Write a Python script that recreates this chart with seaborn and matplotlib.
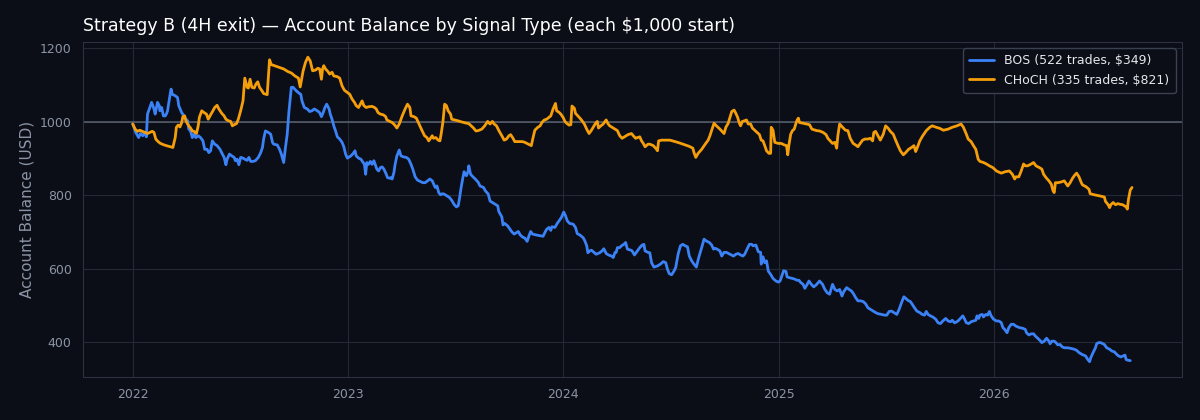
import numpy as np
import pandas as pd
import seaborn as sns
import matplotlib
matplotlib.use("Agg")
import matplotlib.pyplot as plt
import matplotlib.dates as mdates

# ---- data ----
# (days since 2022-01-01, account balance in USD)
start_date = pd.Timestamp("2022-01-01")

bos_points = [
    (0, 994), (5, 971), (10, 957), (13, 968), (17, 962), (21, 971), (23, 959), (25, 1021),
    (29, 1039), (32, 1053), (36, 1035), (38, 1021), (42, 1053), (45, 1044), (46, 1030),
    (49, 1039), (52, 1016), (55, 1016), (57, 1021), (59, 1030), (63, 1071), (65, 1089),
    (67, 1075), (72, 1071), (76, 1066), (78, 1044), (83, 1025), (87, 1016), (90, 1007),
    (93, 1003), (95, 980), (98, 975), (101, 957), (104, 966), (107, 957), (111, 962),
    (115, 957), (119, 948), (122, 925), (126, 925), (129, 916), (132, 921), (135, 948),
    (139, 939), (143, 935), (148, 925), (152, 912), (155, 903), (158, 883), (160, 898),
    (164, 912), (168, 907), (172, 903), (174, 894), (177, 898), (180, 883), (183, 903),
    (187, 901), (190, 898), (194, 895), (197, 903), (200, 892), (204, 892), (208, 894),
    (213, 903), (217, 916), (220, 930), (222, 953), (225, 975), (230, 971), (234, 966),
    (237, 944), (239, 939), (245, 937), (249, 925), (252, 912), (256, 889), (259, 930),
    (262, 966), (265, 1030), (269, 1094), (272, 1094), (277, 1085), (282, 1078),
    (285, 1075), (287, 1057), (291, 1039), (296, 1035), (300, 1028), (304, 1030),
    (308, 1035), (313, 1030), (317, 1025), (320, 1014), (323, 1025), (326, 1039),
    (329, 1048), (333, 1035), (335, 1021), (338, 1007), (341, 989), (344, 975), (347, 959),
    (351, 953), (355, 944), (358, 932), (361, 912), (364, 901), (366, 903), (370, 907),
    (374, 914), (377, 921), (379, 907), (383, 901), (387, 898), (391, 889), (393, 884),
    (395, 857), (397, 889), (400, 884), (403, 892), (406, 884), (409, 894), (412, 880),
    (414, 871), (417, 866), (420, 875), (423, 877), (426, 871), (430, 857), (432, 848),
    (436, 846), (438, 848), (440, 844), (443, 862), (445, 884), (448, 907), (452, 923),
    (455, 907), (460, 904), (464, 903), (468, 898), (472, 884), (475, 871), (479, 850),
    (483, 841), (488, 837), (492, 834), (496, 834), (500, 839), (504, 844), (508, 839),
    (510, 832), (513, 821), (516, 825), (519, 807), (522, 801), (525, 804), (528, 803),
    (533, 798), (537, 794), (541, 786), (545, 775), (549, 768), (552, 771), (554, 789),
    (557, 821), (560, 848), (562, 864), (564, 857), (566, 853), (569, 866), (570, 880),
    (573, 857), (577, 850), (581, 844),
    (586, 835), (589, 825), (595, 821), (598, 812), (603, 803), (606, 784), (610, 780),
    (615, 775), (619, 771), (621, 755), (626, 741), (628, 719), (631, 723), (636, 716),
    (640, 707), (643, 700), (647, 694), (651, 698), (654, 701), (657, 692), (661, 686),
    (665, 683), (669, 674), (672, 689), (675, 701), (678, 694), (683, 692), (689, 690),
    (696, 688), (699, 698), (702, 707), (706, 712), (709, 704), (711, 714), (716, 712),
    (720, 723), (724, 732), (727, 739), (731, 754), (734, 744), (737, 730), (741, 723),
    (747, 721), (751, 712), (754, 695), (758, 692), (764, 684), (767, 675), (770, 662),
    (772, 643), (775, 648), (778, 650), (781, 646), (786, 639), (792, 643), (796, 648),
    (799, 654), (803, 641), (807, 637), (812, 634), (815, 630), (818, 644), (820, 644),
    (822, 657), (826, 657), (829, 662), (833, 666), (836, 671), (839, 653), (845, 650),
    (847, 648), (851, 637), (856, 648), (860, 657), (864, 664), (867, 666), (869, 648),
    (874, 644),
    (877, 643), (880, 616), (884, 604), (890, 607), (895, 612), (900, 619), (904, 616),
    (907, 598), (910, 586), (914, 583), (918, 593), (921, 603), (925, 639), (929, 662),
    (933, 666), (937, 662), (941, 659), (944, 634), (948, 621), (952, 612), (956, 604),
    (960, 630), (965, 657), (969, 680), (973, 675), (978, 671), (982, 664), (985, 653),
    (988, 655), (991, 653), (996, 648), (999, 634), (1003, 644), (1007, 644), (1013, 639),
    (1019, 634), (1023, 639), (1027, 641), (1031, 637), (1035, 634), (1038, 639),
    (1042, 653), (1046, 666), (1050, 666), (1052, 662), (1057, 664), (1061, 646),
    (1065, 644), (1066, 612), (1069, 632), (1072, 616), (1075, 621), (1078, 593),
    (1082, 584), (1086, 573), (1091, 566), (1095, 563), (1098, 566), (1101, 580),
    (1104, 594), (1108, 592), (1110, 577), (1114, 575), (1119, 573), (1123, 571),
    (1127, 568), (1130, 568), (1133, 562), (1137, 557), (1140, 546), (1144, 557),
    (1147, 566), (1151, 557), (1155, 550), (1159, 555),
    (1165, 566), (1170, 557), (1174, 543), (1178, 534), (1182, 530), (1187, 557),
    (1191, 543), (1195, 539), (1199, 543), (1203, 525), (1206, 537), (1211, 548),
    (1215, 543), (1219, 539), (1223, 530), (1226, 521), (1230, 512), (1234, 512),
    (1239, 510), (1243, 504), (1247, 493), (1251, 489), (1256, 484), (1260, 480),
    (1264, 477), (1270, 475), (1275, 473), (1279, 473), (1283, 483), (1287, 484),
    (1291, 480), (1296, 475), (1300, 489), (1304, 507), (1308, 523), (1311, 519),
    (1315, 513), (1319, 510), (1322, 503), (1326, 493), (1330, 484), (1335, 480),
    (1339, 475), (1343, 473), (1346, 483), (1349, 475), (1353, 471), (1357, 468),
    (1362, 462), (1366, 452), (1370, 450), (1374, 457), (1379, 464), (1383, 457),
    (1387, 455), (1390, 459), (1394, 452), (1398, 455), (1401, 459), (1405, 466),
    (1408, 471), (1411, 462), (1414, 452), (1418, 450), (1422, 455), (1426, 457),
    (1430, 459), (1432, 471), (1435, 464), (1437, 473), (1441, 475), (1443, 468),
    (1447, 475), (1450, 473),
    (1453, 483), (1456, 471), (1460, 462), (1465, 457), (1469, 457), (1473, 453),
    (1476, 439), (1479, 434), (1483, 425), (1486, 439), (1490, 448), (1494, 448),
    (1498, 443), (1504, 439), (1510, 437), (1514, 434), (1516, 425), (1520, 419),
    (1524, 422), (1528, 422), (1531, 416), (1535, 410), (1539, 404), (1542, 398),
    (1546, 402), (1550, 410), (1554, 402), (1556, 395), (1559, 402), (1563, 402),
    (1566, 398), (1569, 392), (1573, 393), (1576, 387), (1580, 384), (1586, 384),
    (1592, 382), (1597, 380), (1601, 377), (1605, 371), (1610, 366), (1616, 362),
    (1620, 352), (1623, 346), (1625, 357), (1629, 371), (1633, 384), (1635, 395),
    (1638, 398), (1642, 398), (1648, 393), (1652, 384), (1657, 380), (1661, 375),
    (1665, 373), (1669, 366), (1672, 362), (1676, 359), (1680, 362), (1683, 364),
    (1685, 352), (1688, 350), (1692, 349),
]

choch_points = [
    (0, 994), (4, 980), (8, 974), (12, 977), (16, 974), (21, 971), (25, 968), (29, 971),
    (33, 974), (36, 971), (39, 953), (43, 946), (47, 941), (53, 937), (59, 934), (64, 932),
    (68, 930), (72, 957), (74, 985), (77, 991), (80, 986), (83, 998), (85, 1014),
    (88, 1016), (90, 1003), (93, 994), (95, 989), (98, 983), (101, 975), (104, 974),
    (108, 968), (111, 989), (113, 1012), (117, 1030), (121, 1025), (125, 1021),
    (128, 1007), (132, 1019), (136, 1030), (139, 1039), (143, 1045), (146, 1035),
    (151, 1023), (155, 1016), (158, 1007), (162, 1003), (166, 1001), (169, 989),
    (172, 992), (176, 995), (179, 1007), (183, 1030), (187, 1057), (190, 1119),
    (194, 1094), (196, 1092), (199, 1116), (202, 1094), (206, 1092), (209, 1103),
    (212, 1109), (215, 1094), (219, 1085), (222, 1077), (228, 1074), (232, 1169),
    (235, 1156), (242, 1152), (249, 1148), (256, 1144), (263, 1137), (269, 1133),
    (275, 1125), (281, 1119), (284, 1095),
    (289, 1139), (293, 1162), (297, 1176), (301, 1166), (305, 1139), (310, 1141),
    (314, 1146), (317, 1144), (320, 1116), (322, 1144), (324, 1153), (327, 1144),
    (331, 1137), (334, 1130), (338, 1135), (341, 1125), (347, 1123), (351, 1119),
    (355, 1098), (359, 1086), (364, 1080), (368, 1075), (372, 1062), (376, 1053),
    (379, 1044), (383, 1039), (386, 1048), (389, 1057), (392, 1044), (396, 1039),
    (400, 1041), (406, 1042), (410, 1039), (413, 1035), (416, 1025), (420, 1021),
    (425, 1019), (429, 1014), (431, 1005), (436, 1001), (440, 998), (444, 992), (448, 983),
    (452, 994), (457, 1016), (462, 1035), (466, 1048), (470, 1039), (472, 1016),
    (477, 1014), (481, 1010), (483, 1003), (487, 989), (491, 975), (495, 962), (499, 957),
    (502, 948), (505, 955), (508, 962), (510, 955), (514, 957), (518, 950), (521, 948),
    (523, 966), (526, 998), (529, 1048), (532, 1044), (535, 1030), (539, 1021),
    (541, 1007), (546, 1005), (551, 1003), (557, 1000), (564, 997), (570, 995), (574, 989),
    (578, 983), (582, 975),
    (586, 976), (592, 980), (597, 989), (602, 1001), (606, 994), (610, 1001), (613, 994),
    (617, 989), (621, 976), (626, 962), (630, 950), (634, 953), (638, 962), (641, 965),
    (645, 955), (648, 946), (654, 946), (661, 946), (665, 944), (671, 939), (676, 935),
    (679, 957), (682, 977), (687, 985), (691, 989), (694, 998), (698, 1005), (702, 1007),
    (706, 1012), (709, 1016), (713, 1035), (717, 1050), (719, 1030), (723, 1026),
    (726, 1021), (730, 1012), (733, 1001), (736, 996), (740, 991), (743, 992),
    (745, 1043), (749, 1037), (751, 1023), (755, 1016), (759, 1009), (762, 1003),
    (766, 994), (770, 980), (774, 968), (778, 977), (781, 985), (785, 996), (788, 1001),
    (790, 983), (794, 989), (798, 994), (801, 1001), (803, 1005), (806, 995), (809, 989),
    (813, 985), (818, 980), (822, 976), (826, 962), (830, 955), (834, 959), (840, 965),
    (846, 968), (849, 962), (853, 955), (856, 957), (860, 959), (863, 948), (866, 941),
    (869, 932), (874, 939),
    (877, 939), (883, 935), (888, 926), (890, 921), (892, 948), (897, 950), (903, 950),
    (911, 950), (920, 946), (928, 942), (937, 937), (944, 933), (950, 928), (952, 916),
    (955, 903), (959, 914), (965, 925), (971, 939), (976, 950), (979, 962), (982, 977),
    (986, 996), (990, 989), (996, 980), (1003, 968), (1006, 985), (1010, 996),
    (1013, 1012), (1016, 1028), (1020, 1032), (1023, 1023), (1026, 1012), (1029, 996),
    (1031, 989), (1034, 1001), (1038, 1003), (1041, 1005), (1044, 994), (1048, 994),
    (1051, 983), (1057, 974), (1063, 965), (1066, 950), (1069, 948), (1072, 935),
    (1075, 921), (1079, 914), (1082, 914), (1083, 985), (1086, 977), (1089, 944),
    (1095, 941), (1100, 941), (1105, 937), (1109, 935), (1111, 910), (1113, 937),
    (1116, 966), (1119, 976), (1122, 980), (1125, 996), (1127, 1005), (1129, 1010),
    (1131, 998), (1137, 996), (1143, 994), (1148, 992), (1152, 980), (1160, 976),
    (1165, 975), (1171, 971), (1176, 965), (1179, 955), (1183, 948), (1187, 941),
    (1191, 944), (1194, 928), (1196, 962), (1199, 994), (1204, 985), (1209, 977),
    (1213, 976), (1217, 955), (1222, 941), (1226, 937), (1230, 932), (1233, 939),
    (1238, 950), (1242, 953), (1247, 953), (1251, 955), (1255, 948), (1257, 971),
    (1260, 974), (1264, 962), (1268, 950), (1273, 966), (1277, 989), (1281, 983),
    (1285, 974), (1290, 966), (1294, 950), (1298, 935), (1302, 921), (1307, 910),
    (1311, 916), (1316, 925), (1321, 930), (1325, 935), (1328, 919), (1332, 935),
    (1335, 948), (1340, 962), (1346, 976), (1352, 985), (1356, 989), (1363, 985),
    (1369, 982), (1375, 977), (1383, 980), (1390, 985), (1398, 989), (1405, 994),
    (1409, 985), (1414, 966), (1417, 953), (1422, 946), (1426, 935), (1430, 925),
    (1434, 898), (1437, 892), (1443, 889), (1448, 885),
    (1453, 880), (1459, 875), (1465, 866), (1473, 860), (1480, 864), (1487, 866),
    (1492, 857), (1496, 844), (1498, 850), (1503, 850), (1507, 866), (1511, 885),
    (1514, 880), (1518, 880), (1524, 885), (1528, 889), (1532, 880), (1538, 875),
    (1542, 871), (1545, 857), (1549, 848), (1554, 839), (1558, 830), (1561, 812),
    (1563, 807), (1565, 834), (1569, 834), (1575, 836), (1580, 839), (1583, 832),
    (1586, 825), (1590, 834), (1594, 846), (1598, 855), (1601, 860), (1605, 850),
    (1609, 834), (1611, 828), (1617, 823), (1622, 816), (1624, 804), (1631, 801),
    (1640, 798), (1648, 795), (1650, 783), (1654, 775), (1657, 766), (1659, 774),
    (1663, 780), (1667, 774), (1671, 777), (1675, 775), (1679, 774), (1682, 771),
    (1685, 768), (1687, 762), (1689, 789), (1692, 814), (1695, 821),
]

signals = ["BOS", "CHoCH"]
trade_counts = [522, 335]
final_balances = [349, 821]
colors = ["#3b82f6", "#f59e0b"]

# ---- build long dataframe ----
frames = []
for name, pts, n, fin in zip(signals, [bos_points, choch_points], trade_counts, final_balances):
    d = pd.DataFrame(pts, columns=["day", "balance"])
    d["date"] = start_date + pd.to_timedelta(d["day"], unit="D")
    d["signal"] = f"{name} ({n} trades, ${fin:,})"
    frames.append(d)
df = pd.concat(frames, ignore_index=True)

# ---- style ----
bg = "#0b0e17"
grid_c = "#232935"
text_c = "#8b94a5"

sns.set_theme(style="dark")
plt.rcParams.update({
    "figure.facecolor": bg,
    "axes.facecolor": bg,
    "axes.edgecolor": "#2c323e",
    "axes.labelcolor": text_c,
    "xtick.color": text_c,
    "ytick.color": text_c,
    "grid.color": grid_c,
    "text.color": "white",
})
plt.rcParams["font.family"] = ["DejaVu Sans"]

fig, ax = plt.subplots(figsize=(12, 4.2), dpi=100)
fig.subplots_adjust(left=0.069, right=0.985, top=0.9, bottom=0.1025)

palette = dict(zip(df["signal"].unique(), colors))
sns.lineplot(data=df, x="date", y="balance", hue="signal", palette=palette,
             estimator=None, sort=False, linewidth=2, ax=ax)

ax.axhline(1000, color="#5a6270", linewidth=1.1, zorder=1)

ax.grid(True, color=grid_c, linewidth=0.8)
ax.set_axisbelow(True)
for s in ax.spines.values():
    s.set_color("#2c323e")
    s.set_linewidth(0.8)

ax.xaxis.set_major_locator(mdates.YearLocator())
ax.xaxis.set_major_formatter(mdates.DateFormatter("%Y"))
ax.tick_params(axis="both", labelsize=9, length=4, width=0.8, color=text_c, pad=4)
ax.set_yticks([400, 600, 800, 1000, 1200])

ax.set_xlabel("")
ax.set_ylabel("Account Balance (USD)", fontsize=11, color=text_c)
ax.set_title("Strategy B (4H exit) — Account Balance by Signal Type (each $1,000 start)",
             loc="left", fontsize=12.5, color="white", pad=8)

leg = ax.legend(loc="upper right", fontsize=9, frameon=True, facecolor=bg,
                edgecolor="#3a4150", labelcolor="#e5e7eb", handlelength=2.0,
                borderpad=0.5, framealpha=1.0)
leg.get_frame().set_linewidth(1.0)

fig.savefig("out.png", dpi=100, facecolor=bg)
